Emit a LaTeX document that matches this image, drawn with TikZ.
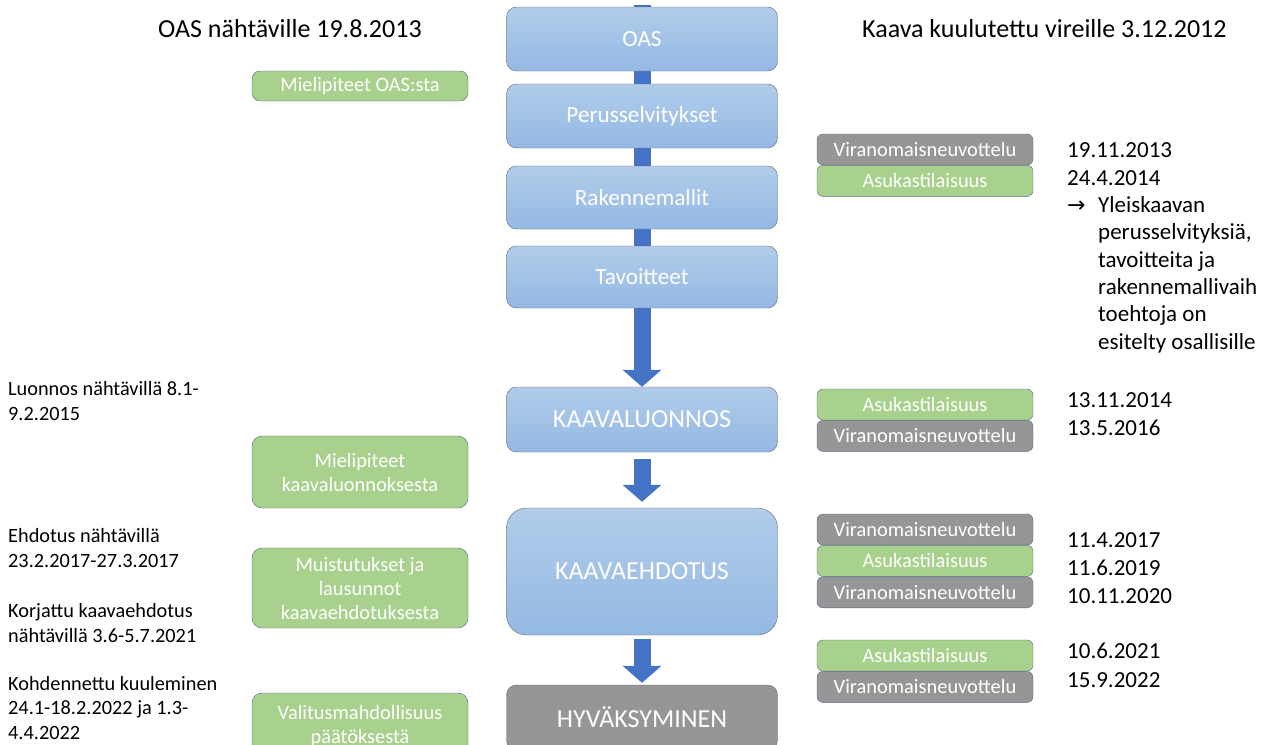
\documentclass[tikz,border=0pt]{standalone}
\usepackage{fontspec}
\setmainfont{Carlito}
\newfontfamily\arrowfont{DejaVu Sans}
\usetikzlibrary{positioning,arrows.meta,backgrounds}
\definecolor{boxtop}{RGB}{177,204,234}
\definecolor{boxbot}{RGB}{148,185,227}
\definecolor{arrowblue}{RGB}{68,114,196}
\definecolor{greenbox}{RGB}{169,209,142}
\definecolor{graybox}{RGB}{150,150,150}
\definecolor{edgeblue}{RGB}{84,104,132}
\begin{document}
\begin{tikzpicture}[x=1pt,y=-1pt] % схема этапов
\tikzstyle{stage} = [draw=black!60, rounded corners=10pt, text=white, minimum width=271pt, inner sep=0pt, font=\fontsize{23.2}{28}\selectfont] % этап
\tikzstyle{phase} = [stage, top color=boxtop, bottom color=boxbot] % синий этап
\tikzstyle{bigphase} = [phase, font=\fontsize{26}{30}\selectfont] % крупный этап
\tikzstyle{final} = [stage, fill=graybox, font=\fontsize{26}{30}\selectfont] % серый этап
\tikzstyle{opinion} = [draw=edgeblue, fill=greenbox, rounded corners=8pt, text=white, minimum width=216pt, inner sep=0pt, align=center, font=\fontsize{20.4}{24}\selectfont] % зелёный блок слева
\tikzstyle{event} = [draw=edgeblue, rounded corners=6pt, text=white, minimum width=216pt, minimum height=31pt, inner sep=0pt, font=\fontsize{20.4}{23}\selectfont] % маленький блок справа
\tikzstyle{meet} = [event, fill=graybox] % совещание
\tikzstyle{hear} = [event, fill=greenbox] % собрание жителей
\tikzstyle{note} = [inner sep=0pt, align=left, anchor=base west, font=\fontsize{20.3}{24.25}\selectfont] % текст слева (base = последняя строка)
\tikzstyle{datenote} = [note, font=\fontsize{23}{27.3}\selectfont] % даты справа
\tikzstyle{title} = [inner sep=0pt, anchor=base west, font=\fontsize{26}{30}\selectfont] % заголовки
\tikzstyle{flow} = [draw=arrowblue, line width=17pt, -{Triangle[width=38pt,length=17pt]}] % толстая стрелка

\useasboundingbox (0,0) rectangle (1271,744);
\clip (0,0) rectangle (1271,744);

% заголовки
\node[title] (t1) at (158,37) {OAS nähtäville 19.8.2013};
\node[title] (t2) at (862,37) {Kaava kuulutettu vireille 3.12.2012};

% этапы
\node[phase, minimum height=64pt] (oas) at (642,39) {OAS};
\node[phase, minimum height=64pt] (perus) at (642,116) {Perusselvitykset};
\node[phase, minimum height=63pt] (rakenne) at (642,197.5) {Rakennemallit};
\node[phase, minimum height=62pt] (tavoite) at (642,277) {Tavoitteet};
\node[bigphase, minimum height=65pt] (luonnos) at (642,419.5) {KAAVALUONNOS};
\node[bigphase, minimum height=127pt, rounded corners=20pt] (ehdotus) at (642,571.5) {KAAVAEHDOTUS};
\node[final, minimum height=65pt] (hyv) at (642,717.5) {HYVÄKSYMINEN};
\coordinate (top) at (642,5);

\begin{pgfonlayer}{background}
\draw[flow] (top) -- (luonnos.north);
\draw[flow, shorten <=7pt, shorten >=6pt] (luonnos.south) -- (ehdotus.north);
\draw[flow, shorten <=4pt, shorten >=2pt] (ehdotus.south) -- (hyv.north);
\end{pgfonlayer}

% мнения слева
\node[opinion, minimum height=30pt] (g1) at (360,86) {Mielipiteet OAS:sta};
\node[opinion, minimum height=72pt, rounded corners=10pt] (g2) at (360,472) {Mielipiteet\\kaavaluonnoksesta};
\node[opinion, minimum height=80pt, rounded corners=10pt] (g3) at (360,588) {Muistutukset ja\\lausunnot\\kaavaehdotuksesta};
\node[opinion, minimum height=66pt, rounded corners=10pt] (g4) at (360,726) {Valitusmahdollisuus\\päätöksestä};

% тексты слева
\node[note] (l1) at (8,420) {Luonnos nähtävillä 8.1-\\9.2.2015};
\node[note] (l2) at (8,567) {Ehdotus nähtävillä\\23.2.2017-27.3.2017};
\node[note] (l3) at (8,642) {Korjattu kaavaehdotus\\nähtävillä 3.6-5.7.2021};
\node[note] (l4) at (8,739) {Kohdennettu kuuleminen\\24.1-18.2.2022 ja 1.3-\\4.4.2022};

% события справа
\node[meet] (v1) at (925,149.5) {Viranomaisneuvottelu};
\node[hear, below=0pt of v1] (a1) {Asukastilaisuus};
\node[hear] (a2) at (925,404.5) {Asukastilaisuus};
\node[meet, below=0pt of a2] (v2) {Viranomaisneuvottelu};
\node[meet] (v3) at (925,529.5) {Viranomaisneuvottelu};
\node[hear, below=0pt of v3] (a3) {Asukastilaisuus};
\node[meet, below=0pt of a3] (v4) {Viranomaisneuvottelu};
\node[hear] (a4) at (925,655.5) {Asukastilaisuus};
\node[meet, below=0pt of a4] (v5) {Viranomaisneuvottelu};

% даты
\node[datenote] (d1) at (1067,349) {19.11.2013\\24.4.2014\\\makebox[31pt][l]{\arrowfont\fontsize{22}{22}\selectfont →}Yleiskaavan\\\hspace*{31pt}perusselvityksiä,\\\hspace*{31pt}tavoitteita ja\\\hspace*{31pt}rakennemallivaih\\\hspace*{31pt}toehtoja on\\\hspace*{31pt}esitelty osallisille};
\node[datenote] (d2) at (1067,435) {13.11.2014\\13.5.2016};
\node[datenote, font=\fontsize{23}{28}\selectfont] (d3) at (1067,603) {11.4.2017\\11.6.2019\\10.11.2020};
\node[datenote, font=\fontsize{23}{29}\selectfont] (d4) at (1067,687) {10.6.2021\\15.9.2022};
\end{tikzpicture}
\end{document}
